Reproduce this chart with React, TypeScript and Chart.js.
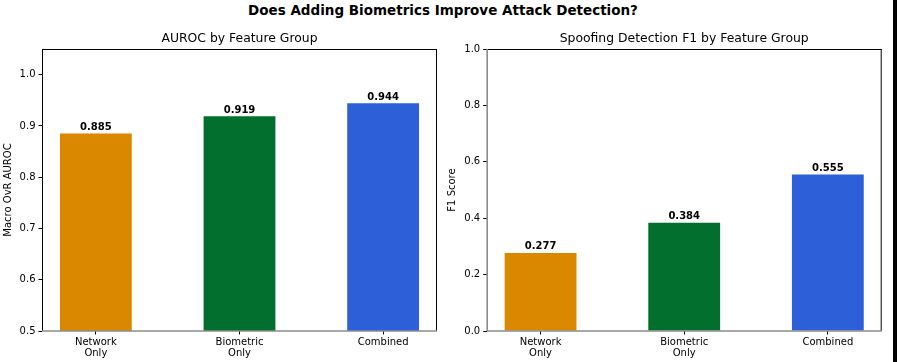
import React, { useEffect, useRef } from "react";
import { Chart, registerables } from "chart.js";

Chart.register(...registerables);

const suptitle = "Does Adding Biometrics Improve Attack Detection?";
const categories: string[][] = [["Network", "Only"], ["Biometric", "Only"], ["Combined"]];
const categoryPositions = [0, 1, 2];
const barColors = ["#D98800", "#036F2E", "#2D5FD9"];

const aurocTitle = "AUROC by Feature Group";
const aurocLabel = "Macro OvR AUROC";
const aurocValues = [0.885, 0.919, 0.944];
const aurocTicks = [0.5, 0.6, 0.7, 0.8, 0.9, 1.0];
const aurocRange = [0.5, 1.05];

const f1Title = "Spoofing Detection F1 by Feature Group";
const f1Label = "F1 Score";
const f1Values = [0.277, 0.384, 0.555];
const f1Ticks = [0.0, 0.2, 0.4, 0.6, 0.8, 1.0];
const f1Range = [0.0, 1.0];

const FONT = "'DejaVu Sans', sans-serif";

type PanelProps = {
  title: string;
  yLabel: string;
  values: number[];
  yTicks: number[];
  yRange: number[];
  width: number;
  yAxisWidth: number;
  padRight: number;
  yTitlePad: number;
  grayLeft: boolean;
};

function Panel(p: PanelProps) {
  const ref = useRef<HTMLCanvasElement | null>(null);
  useEffect(() => {
    if (!ref.current) return;
    const decor = {
      id: "decor",
      afterDatasetsDraw(chart: any) {
        const ctx = chart.ctx;
        const meta = chart.getDatasetMeta(0);
        ctx.save();
        ctx.fillStyle = "#000";
        ctx.font = `bold 10px ${FONT}`;
        ctx.textAlign = "center";
        ctx.textBaseline = "alphabetic";
        meta.data.forEach((el: any, i: number) => {
          ctx.fillText(p.values[i].toFixed(3), el.x, el.y - 3.5);
        });
        ctx.restore();
      },
      afterDraw(chart: any) {
        const { ctx, chartArea: a } = chart;
        ctx.save();
        ctx.strokeStyle = "#000";
        ctx.lineWidth = 1;
        ctx.beginPath();
        ctx.moveTo(a.left, a.top + 0.5);
        ctx.lineTo(a.right, a.top + 0.5);
        ctx.moveTo(a.right - 0.5, a.top);
        ctx.lineTo(a.right - 0.5, a.bottom);
        if (!p.grayLeft) {
          ctx.moveTo(a.left + 0.5, a.top);
          ctx.lineTo(a.left + 0.5, a.bottom);
        }
        ctx.stroke();
        ctx.strokeStyle = "#8c8c8c";
        ctx.lineWidth = 1.6;
        ctx.beginPath();
        ctx.moveTo(a.left, a.bottom);
        ctx.lineTo(a.right, a.bottom);
        if (p.grayLeft) {
          ctx.moveTo(a.left + 0.5, a.top);
          ctx.lineTo(a.left + 0.5, a.bottom);
        }
        ctx.stroke();
        ctx.fillStyle = "#000";
        ctx.font = `12.4px ${FONT}`;
        ctx.textAlign = "center";
        ctx.textBaseline = "middle";
        ctx.fillText(p.title, (a.left + a.right) / 2, 39);
        ctx.restore();
      },
    };
    const chart = new Chart(ref.current, {
      type: "bar",
      data: {
        datasets: [
          {
            data: categoryPositions.map((x, i) => ({ x, y: p.values[i] })),
            backgroundColor: barColors,
            borderWidth: 0,
            categoryPercentage: 1,
            barPercentage: 0.5,
          } as any,
        ],
      },
      options: {
        animation: false,
        responsive: false,
        layout: { padding: { top: 49, right: p.padRight, left: 0, bottom: 0 } },
        plugins: { legend: { display: false }, tooltip: { enabled: false }, title: { display: false } },
        scales: {
          x: {
            type: "linear",
            min: -0.375,
            max: 2.375,
            offset: false,
            afterBuildTicks(scale: any) {
              scale.ticks = categoryPositions.map((v) => ({ value: v }));
            },
            afterFit(scale: any) {
              scale.height = 31;
            },
            grid: { display: true, drawOnChartArea: false, drawTicks: true, tickLength: 3.5, color: "#000", offset: false },
            border: { display: false },
            ticks: {
              autoSkip: false,
              maxRotation: 0,
              padding: 2.3,
              color: "#000",
              font: { family: FONT, size: 10, lineHeight: 1.1 },
              callback: (v: any) => categories[categoryPositions.indexOf(Number(v))] ?? "",
            },
          },
          y: {
            type: "linear",
            min: p.yRange[0],
            max: p.yRange[1],
            afterBuildTicks(scale: any) {
              scale.ticks = p.yTicks.map((v) => ({ value: v }));
            },
            afterFit(scale: any) {
              scale.width = p.yAxisWidth;
            },
            grid: { display: true, drawOnChartArea: false, drawTicks: true, tickLength: 3.5, color: "#000" },
            border: { display: false },
            ticks: {
              padding: 3,
              color: "#000",
              font: { family: FONT, size: 10 },
              callback: (v: any) => Number(v).toFixed(1),
            },
            title: {
              display: true,
              text: p.yLabel,
              color: "#000",
              font: { family: FONT, size: 10, lineHeight: 1.2 },
              padding: { top: p.yTitlePad, bottom: 0 },
            },
          },
        },
      } as any,
      plugins: [decor],
    });
    return () => chart.destroy();
  }, []);
  return <canvas ref={ref} width={p.width} height={362} style={{ display: "block" }} />;
}

export default function App() {
  return (
    <div style={{ position: "absolute", left: 0, top: 0, width: 897, height: 362, background: "#fff", overflow: "hidden" }}>
      <div
        style={{
          position: "absolute",
          left: 0,
          top: 0,
          width: 886,
          height: 20,
          lineHeight: "20px",
          textAlign: "center",
          fontFamily: FONT,
          fontWeight: "bold",
          fontSize: 13.5,
          color: "#000",
          whiteSpace: "nowrap",
        }}
      >
        {suptitle}
      </div>
      <div style={{ position: "absolute", left: 0, top: 0 }}>
        <Panel title={aurocTitle} yLabel={aurocLabel} values={aurocValues} yTicks={aurocTicks} yRange={aurocRange}
          width={444} yAxisWidth={42} padRight={7} yTitlePad={2} grayLeft={false} />
      </div>
      <div style={{ position: "absolute", left: 444, top: 0 }}>
        <Panel title={f1Title} yLabel={f1Label} values={f1Values} yTicks={f1Ticks} yRange={f1Range}
          width={453} yAxisWidth={42.7} padRight={15.3} yTitlePad={2.8} grayLeft={true} />
      </div>
      <div style={{ position: "absolute", left: 893, top: 0, width: 4, height: 362, background: "#000" }} />
    </div>
  );
}
